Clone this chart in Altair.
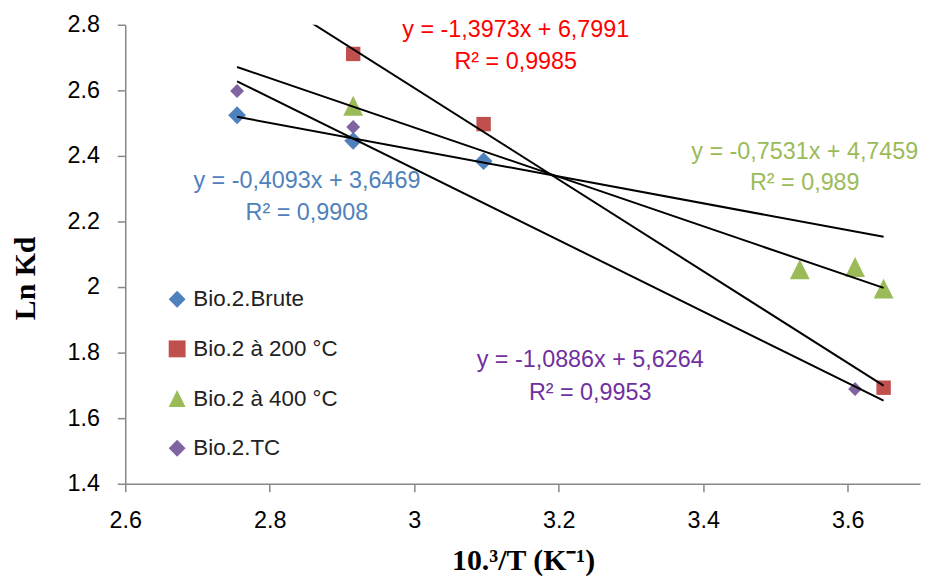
import altair as alt
import pandas as pd

# ---- data ----
series_names = ["Bio.2.Brute", "Bio.2 à 200 °C", "Bio.2 à 400 °C", "Bio.2.TC"]
series_colors = ["#4F81BD", "#C0504D", "#9BBB59", "#8064A2"]
eq_colors = ["#4F81BD", "#FF0000", "#9BBB59", "#7030A0"]
series_shapes = ["diamond", "square", "M-1,1L0,-1L1,1Z", "diamond"]
series_sizes = [324, 210, 400, 196]

brute_x = [2.7548, 2.9155, 3.0960]
brute_y = [2.524, 2.446, 2.384]
t200_x = [2.9155, 3.0960, 3.6496]
t200_y = [2.711, 2.497, 1.693]
t400_x = [2.9155, 3.5336, 3.6101, 3.6496]
t400_y = [2.553, 2.054, 2.061, 1.995]
tc_x = [2.7548, 2.9155, 3.6101]
tc_y = [2.598, 2.488, 1.689]

slopes = [-0.4093, -1.3973, -0.7531, -1.0886]
intercepts = [3.6469, 6.7991, 4.7459, 5.6264]
r2_text = ["0,9908", "0,9985", "0,989", "0,9953"]
trend_x_range = [2.7548, 3.6496]

x_ticks = [2.6, 2.8, 3.0, 3.2, 3.4, 3.6]
y_ticks = [1.4, 1.6, 1.8, 2.0, 2.2, 2.4, 2.6, 2.8]

# annotation anchors (data coordinates)
eq_x = [2.8514, 3.1405, 3.5405, 3.2435]
eq_y = [2.3234, 2.784, 2.4122, 1.7759]
r2_y = [2.2243, 2.687, 2.3182, 1.677]

# ---- tables ----
xs = [brute_x, t200_x, t400_x, tc_x]
ys = [brute_y, t200_y, t400_y, tc_y]
pts = pd.DataFrame(
    [{"series": s, "x": x, "y": y} for s, xl, yl in zip(series_names, xs, ys) for x, y in zip(xl, yl)]
)

trend = pd.DataFrame(
    [{"series": s, "x": x, "y": m * x + b}
     for s, m, b in zip(series_names, slopes, intercepts) for x in trend_x_range]
)

def fmt(v):
    return f"{v:.4f}".replace(".", ",")

ann_rows = []
for i in range(4):
    ann_rows.append({"text": f"y = {fmt(slopes[i])}x + {fmt(intercepts[i])}", "x": eq_x[i], "y": eq_y[i], "c": eq_colors[i]})
    ann_rows.append({"text": f"R² = {r2_text[i]}", "x": eq_x[i], "y": r2_y[i], "c": eq_colors[i]})
ann = pd.DataFrame(ann_rows)

xscale = alt.Scale(domain=[2.6, 3.7], nice=False, zero=False)
yscale = alt.Scale(domain=[1.4, 2.8], nice=False, zero=False)

xaxis = alt.Axis(values=x_ticks, format=".1~f", title="10.³/T (K⁻¹)",
                 titleX=400.5, titleY=86.7, titleBaseline="alphabetic", titleAlign="center",
                 labelPadding=17, labelFlush=False, labelOverlap=False)
yaxis = alt.Axis(values=y_ticks, format=".1~f", title="Ln Kd",
                 titleAngle=270, titleX=-91, titleY=254.8, titleAlign="center",
                 titleBaseline="alphabetic", labelPadding=18, labelOverlap=False)

color_enc = alt.Color("series:N", scale=alt.Scale(domain=series_names, range=series_colors),
                      legend=alt.Legend(title=None))
shape_enc = alt.Shape("series:N", scale=alt.Scale(domain=series_names, range=series_shapes),
                      legend=alt.Legend(title=None))

point_layers = []
for i, name in enumerate(series_names):
    point_layers.append(
        alt.Chart(pts).transform_filter(alt.datum.series == name)
        .mark_point(filled=True, opacity=1, strokeWidth=0, size=series_sizes[i])
        .encode(
            x=alt.X("x:Q", scale=xscale, axis=xaxis),
            y=alt.Y("y:Q", scale=yscale, axis=yaxis),
            color=color_enc,
            shape=shape_enc,
        )
    )

lines = alt.Chart(trend).mark_line(color="black", strokeWidth=2, clip=True).encode(
    x=alt.X("x:Q", scale=xscale),
    y=alt.Y("y:Q", scale=yscale),
    detail="series:N",
)

texts = alt.Chart(ann).mark_text(font="Liberation Sans", fontSize=23.5, align="center", baseline="middle").encode(
    x=alt.X("x:Q", scale=xscale),
    y=alt.Y("y:Q", scale=yscale),
    text="text:N",
    color=alt.Color("c:N", scale=None),
)

chart = alt.layer(*point_layers, lines, texts).properties(
    width=800, height=462,
    padding={"left": 118, "top": 15, "right": 2, "bottom": 94},
    autosize="none",
).configure_view(strokeWidth=0).configure_axis(
    grid=False, domainColor="#878787", tickColor="#878787", domainWidth=1.5, tickWidth=1.5,
    tickSize=8, labelFont="Liberation Sans", labelFontSize=23.5, labelColor="black",
    titleFont="Liberation Serif", titleFontSize=30, titleFontWeight="bold", titleColor="black",
).configure_legend(
    orient="none", legendX=41, legendY=265, symbolSize=289, labelFont="Liberation Sans",
    labelFontSize=22.5, labelColor="#222222", rowPadding=27.0, labelOffset=5,
    symbolStrokeWidth=0, symbolOpacity=1,
)

chart.save("out.html", embed_options={"renderer": "svg", "actions": False})
